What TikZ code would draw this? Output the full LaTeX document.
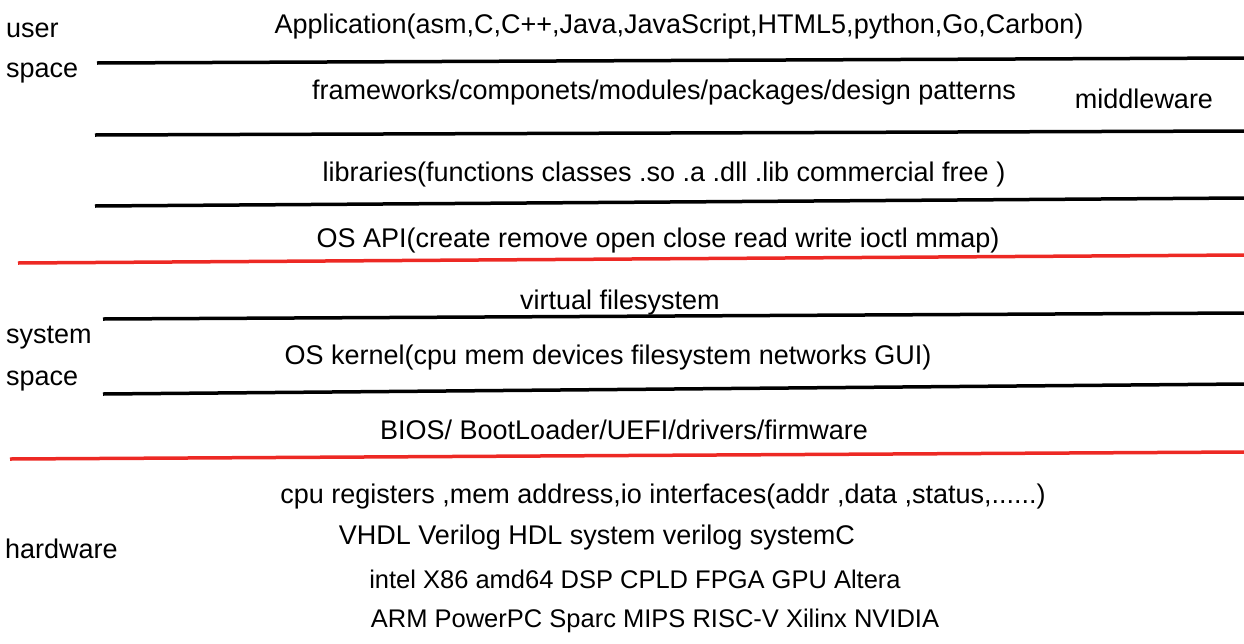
\documentclass[tikz,border=0pt]{standalone}
\usepackage{fontspec}
\setmainfont{Liberation Sans}
\usepackage{tikz}
\usetikzlibrary{positioning}
\definecolor{sepred}{rgb}{0.93, 0.16, 0.14}
\tikzset{
  layer/.style={
    inner sep=0pt,
    anchor=center,
    yshift=-3pt,
    font=\fontsize{27}{32}\selectfont
  },
  side/.style={
    inner sep=0pt,
    anchor=west,
    yshift=-3pt,
    font=\fontsize{27}{32}\selectfont
  },
  sep/.style={
    line width=3.5pt,
    black
  },
  bound/.style={
    line width=3.5pt,
    sepred
  }
}
\begin{document}
\begin{tikzpicture}[x=1pt,y=-1pt]
\useasboundingbox (0,0) rectangle (1244,643);
% left labels
\node[side] (us1) at (6,27) {user};
\node[side] (us2) at (6,70) {space};
\node[side] (ss1) at (6,335) {system};
\node[side] (ss2) at (6,378) {space};
\node[side] (hw) at (5,546) {hardware};
% user space layers
\node[layer] (app) at (679,24) {Application(asm,C,C++,Java,JavaScript,HTML5,python,Go,Carbon)};
\node[layer] (fw) at (664,90) {frameworks/componets/modules/packages/design patterns};
\node[layer] (mw) at (1144,96) {middleware};
\node[layer] (lib) at (664,172) {libraries(functions classes .so .a .dll .lib commercial free )};
\node[layer] (api) at (658,238) {OS API(create remove open close read write ioctl mmap)};
% system space layers
\node[layer] (vfs) at (620,300) {virtual filesystem};
\node[layer] (kern) at (608,355) {OS kernel(cpu mem devices filesystem networks GUI)};
\node[layer] (bios) at (624,427) {BIOS/ BootLoader/UEFI/drivers/firmware};
% hardware
\node[layer] (regs) at (663,494) {cpu registers ,mem address,io interfaces(addr ,data ,status,......)};
\node[layer] (hdl) at (597,535) {VHDL Verilog HDL system verilog systemC};
\node[layer, font=\fontsize{25.5}{30}\selectfont] (chip) at (635,576) {intel X86 amd64 DSP CPLD FPGA GPU Altera};
\node[layer, font=\fontsize{25.5}{30}\selectfont] (arm) at (655,618) {ARM PowerPC Sparc MIPS RISC-V Xilinx NVIDIA};
% separators
\draw[sep] (97,63) -- (1244,58);
\draw[sep] (95,135) -- (1244,131);
\draw[sep] (95,206) -- (1244,198);
\draw[bound] (18,263) -- (1244,255);
\draw[sep] (103,319) -- (1244,313);
\draw[sep] (103,394) -- (1244,384);
\draw[bound] (10,459) -- (1244,452);
\end{tikzpicture}
\end{document}
